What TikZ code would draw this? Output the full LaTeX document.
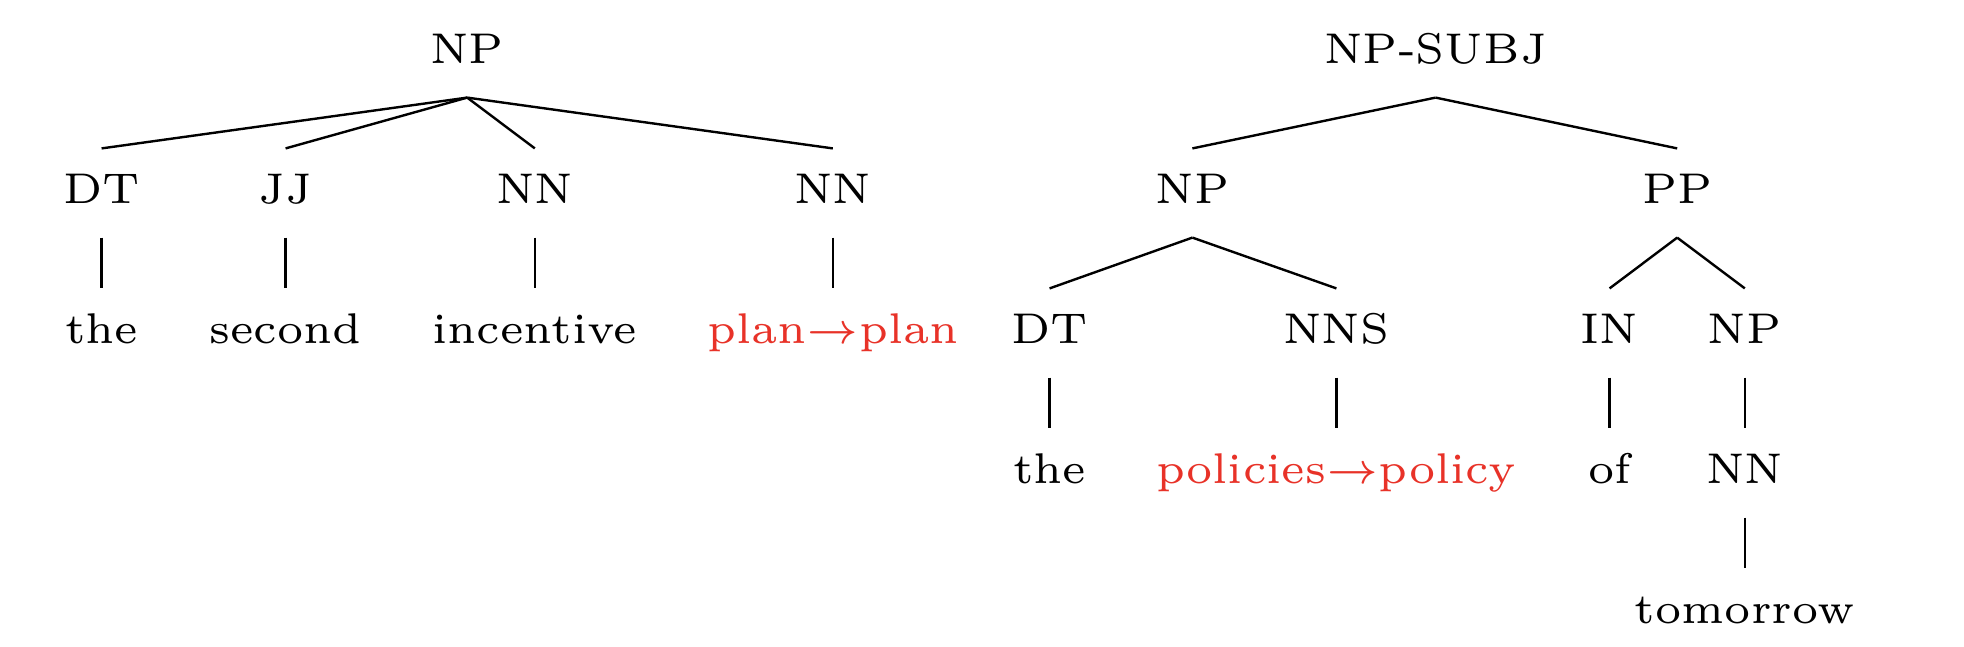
\documentclass[tikz,border=0pt]{standalone}
\definecolor{hl}{RGB}{232,50,40}
\newcommand\tl[1]{\scalebox{1.79}{#1}}
\begin{document}
\begin{tikzpicture}[x=1pt,y=1pt,
  lab/.style={anchor=base, inner sep=0pt, outer sep=0pt, text height=13.8pt, text depth=8.5pt, font=\fontsize{6}{6}\selectfont},
  edge/.style={line width=0.6pt}]
\useasboundingbox (0,0) rectangle (491,161.5);
% left tree
\node[lab] (np) at (116.8,145.6) {\tl{NP}};
\node[lab] (dt) at (25.4,110.6) {\tl{DT}};
\node[lab] (jj) at (71.4,110.6) {\tl{JJ}};
\node[lab] (nn1) at (133.7,110.6) {\tl{NN}};
\node[lab] (nn2) at (208.2,110.6) {\tl{NN}};
\node[lab] (w1) at (25.4,75.6) {\tl{the}};
\node[lab] (w2) at (71.4,75.6) {\tl{second}};
\node[lab] (w3) at (133.7,75.6) {\tl{incentive}};
\node[lab,text=hl] (w4) at (208.2,75.6) {\tl{plan$\rightarrow$plan}};
\foreach \c in {dt,jj,nn1,nn2} \draw[edge] (np.south) -- (\c.north);
\draw[edge] (dt.south) -- (w1.north);
\draw[edge] (jj.south) -- (w2.north);
\draw[edge] (nn1.south) -- (w3.north);
\draw[edge] (nn2.south) -- (w4.north);
% right tree
\node[lab] (subj) at (358.9,145.6) {\tl{NP-SUBJ}};
\node[lab] (np2) at (298.1,110.6) {\tl{NP}};
\node[lab] (pp) at (419.3,110.6) {\tl{PP}};
\node[lab] (dt2) at (262.4,75.6) {\tl{DT}};
\node[lab] (nns) at (334.1,75.6) {\tl{NNS}};
\node[lab] (in) at (402.4,75.6) {\tl{IN}};
\node[lab] (np3) at (436.2,75.6) {\tl{NP}};
\node[lab] (w5) at (262.4,40.6) {\tl{the}};
\node[lab,text=hl] (w6) at (334.1,40.6) {\tl{policies$\rightarrow$policy}};
\node[lab] (w7) at (402.4,40.6) {\tl{of}};
\node[lab] (nn3) at (436.2,40.6) {\tl{NN}};
\node[lab] (w8) at (436.2,5.6) {\tl{tomorrow}};
\draw[edge] (subj.south) -- (np2.north);
\draw[edge] (subj.south) -- (pp.north);
\draw[edge] (np2.south) -- (dt2.north);
\draw[edge] (np2.south) -- (nns.north);
\draw[edge] (pp.south) -- (in.north);
\draw[edge] (pp.south) -- (np3.north);
\draw[edge] (dt2.south) -- (w5.north);
\draw[edge] (nns.south) -- (w6.north);
\draw[edge] (in.south) -- (w7.north);
\draw[edge] (np3.south) -- (nn3.north);
\draw[edge] (nn3.south) -- (w8.north);
\end{tikzpicture}
\end{document}
